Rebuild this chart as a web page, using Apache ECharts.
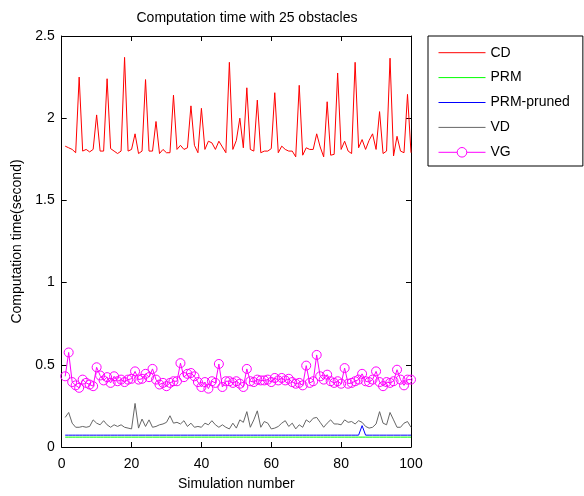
<!DOCTYPE html>
<html>
<head>
<meta charset="utf-8">
<script src="https://cdn.jsdelivr.net/npm/echarts@6/dist/echarts.min.js"></script>
<style>html,body{margin:0;padding:0;background:#fff;}#c{width:584px;height:496px;}</style>
</head>
<body>
<div id="c"></div>
<script>
const titleText = 'Computation time with 25 obstacles';
const xName = 'Simulation number';
const yName = 'Computation time(second)';
const seriesNames = ['CD', 'PRM', 'PRM-pruned', 'VD', 'VG'];

const cdValues = [1.83,1.82,1.81,1.79,2.25,1.80,1.81,1.795,1.81,2.02,
  1.80,1.80,2.24,1.815,1.80,1.785,1.80,2.37,1.80,1.81,
  1.905,1.785,1.80,2.235,1.80,1.80,1.98,1.785,1.81,1.79,
  1.79,2.14,1.81,1.835,1.81,1.82,2.075,1.835,1.79,2.06,
  1.81,1.86,1.85,1.81,1.86,1.825,1.79,2.34,1.81,1.865,
  2.00,1.82,2.185,1.81,1.80,2.11,1.79,1.80,1.80,1.815,
  2.155,1.79,1.83,1.81,1.80,1.80,1.765,2.20,1.775,1.82,
  1.81,1.81,1.905,1.825,1.765,2.10,1.775,1.78,2.275,1.81,
  1.86,1.80,1.785,2.34,1.82,1.87,1.81,1.865,1.905,1.81,
  2.04,1.785,1.80,2.365,1.77,1.89,1.80,1.79,2.145,1.79];

const prmValues = [0.06,0.06,0.06,0.06,0.06,0.06,0.06,0.06,0.06,0.06,
  0.06,0.06,0.06,0.06,0.06,0.06,0.06,0.06,0.06,0.06,
  0.06,0.06,0.06,0.06,0.06,0.06,0.06,0.06,0.06,0.06,
  0.06,0.06,0.06,0.06,0.06,0.06,0.06,0.06,0.06,0.06,
  0.06,0.06,0.06,0.06,0.06,0.06,0.06,0.06,0.06,0.06,
  0.06,0.06,0.06,0.06,0.06,0.06,0.06,0.06,0.06,0.06,
  0.06,0.06,0.06,0.06,0.06,0.06,0.06,0.06,0.06,0.06,
  0.06,0.06,0.06,0.06,0.06,0.06,0.06,0.06,0.06,0.06,
  0.06,0.06,0.06,0.06,0.06,0.06,0.06,0.06,0.06,0.06,
  0.06,0.06,0.06,0.06,0.06,0.06,0.06,0.06,0.06,0.06];

const prmPrunedValues = [0.072,0.072,0.072,0.072,0.072,0.072,0.072,0.072,0.072,0.072,
  0.072,0.072,0.072,0.072,0.072,0.072,0.072,0.072,0.072,0.072,
  0.072,0.072,0.072,0.072,0.072,0.072,0.072,0.072,0.072,0.072,
  0.072,0.072,0.072,0.072,0.072,0.072,0.072,0.072,0.072,0.072,
  0.072,0.072,0.072,0.072,0.072,0.072,0.072,0.072,0.072,0.072,
  0.072,0.072,0.072,0.072,0.072,0.072,0.072,0.072,0.072,0.072,
  0.072,0.072,0.072,0.072,0.072,0.072,0.072,0.072,0.072,0.072,
  0.072,0.072,0.072,0.072,0.072,0.072,0.072,0.072,0.072,0.072,
  0.072,0.072,0.072,0.072,0.072,0.13,0.072,0.072,0.072,0.072,
  0.072,0.072,0.072,0.072,0.072,0.072,0.072,0.072,0.072,0.072];

const vdValues = [0.18,0.21,0.145,0.12,0.12,0.125,0.12,0.125,0.165,0.145,
  0.135,0.16,0.135,0.12,0.135,0.125,0.135,0.12,0.115,0.11,
  0.265,0.115,0.17,0.125,0.165,0.12,0.125,0.135,0.14,0.15,
  0.19,0.145,0.15,0.14,0.16,0.125,0.145,0.12,0.125,0.12,
  0.145,0.135,0.16,0.135,0.12,0.135,0.12,0.11,0.145,0.115,
  0.165,0.15,0.215,0.12,0.165,0.22,0.12,0.155,0.145,0.11,
  0.115,0.125,0.145,0.16,0.125,0.145,0.11,0.135,0.12,0.165,
  0.15,0.175,0.18,0.15,0.12,0.145,0.165,0.14,0.14,0.135,
  0.165,0.15,0.155,0.14,0.16,0.15,0.125,0.115,0.12,0.14,
  0.215,0.145,0.135,0.21,0.165,0.12,0.12,0.145,0.155,0.12];

const vgValues = [0.43,0.575,0.395,0.375,0.36,0.41,0.39,0.38,0.37,0.485,
  0.435,0.405,0.425,0.39,0.43,0.40,0.41,0.395,0.41,0.415,
  0.46,0.41,0.415,0.445,0.425,0.475,0.41,0.38,0.39,0.37,
  0.39,0.40,0.40,0.51,0.425,0.445,0.45,0.43,0.395,0.365,
  0.395,0.355,0.40,0.39,0.505,0.365,0.40,0.40,0.39,0.40,
  0.385,0.365,0.475,0.40,0.395,0.41,0.405,0.405,0.41,0.395,
  0.42,0.405,0.42,0.405,0.415,0.395,0.385,0.39,0.375,0.495,
  0.39,0.40,0.56,0.43,0.41,0.44,0.40,0.39,0.40,0.385,
  0.48,0.385,0.39,0.40,0.41,0.445,0.40,0.395,0.41,0.46,
  0.395,0.37,0.395,0.39,0.40,0.47,0.41,0.375,0.41,0.41];

const xTicks = [0, 20, 40, 60, 80, 100];
const yTicks = [0, 0.5, 1, 1.5, 2, 2.5];

const FONT = '"Liberation Sans", Arial, sans-serif';
const pairs = vals => vals.map((v, i) => [i + 1, v]);

const chart = echarts.init(document.getElementById('c'), null, {renderer: 'canvas'});

const axisCommon = {
  axisLine: {show: true, onZero: false, lineStyle: {color: '#000', width: 1}},
  axisTick: {show: true, inside: true, length: 5, lineStyle: {color: '#000'}},
  splitLine: {show: false}
};

const hiddenSymbol = {opacity: 0};

chart.setOption({
  animation: false,
  backgroundColor: '#fff',
  textStyle: {fontFamily: FONT},
  title: {
    text: titleText,
    left: 247, top: 11, padding: 0,
    textAlign: 'center',
    textStyle: {fontSize: 14, fontWeight: 'normal', color: '#000', fontFamily: FONT}
  },
  grid: {left: 61.7, right: 173, top: 36, bottom: 43.5, containLabel: false},
  legend: {
    orient: 'vertical',
    left: 428, top: 36,
    itemWidth: 47, itemHeight: 12, itemGap: 10.9,
    padding: [9.7, 13, 6.7, 10],
    borderColor: '#000', borderWidth: 1, backgroundColor: '#fff',
    lineStyle: {width: 1},
    textStyle: {fontSize: 14, color: '#000', fontFamily: FONT},
    data: [
      {name: seriesNames[0], itemStyle: hiddenSymbol},
      {name: seriesNames[1], itemStyle: hiddenSymbol},
      {name: seriesNames[2], itemStyle: hiddenSymbol},
      {name: seriesNames[3], itemStyle: hiddenSymbol},
      {name: seriesNames[4], itemStyle: {color: '#ffffff', borderColor: '#ff00ff', borderWidth: 1}}
    ]
  },
  xAxis: [
    Object.assign({
      type: 'value', min: xTicks[0], max: xTicks[xTicks.length - 1], interval: 20,
      position: 'bottom',
      name: xName, nameLocation: 'middle', nameGap: 30,
      nameTextStyle: {fontSize: 14, color: '#000', fontFamily: FONT},
      axisLabel: {fontSize: 14, color: '#000', margin: 10, fontFamily: FONT}
    }, axisCommon),
    Object.assign({
      type: 'value', min: xTicks[0], max: xTicks[xTicks.length - 1], interval: 20,
      position: 'top', axisLabel: {show: false}
    }, axisCommon)
  ],
  yAxis: [
    Object.assign({
      type: 'value', min: yTicks[0], max: yTicks[yTicks.length - 1], interval: 0.5,
      position: 'left',
      name: yName, nameLocation: 'middle', nameGap: 36,
      nameTextStyle: {fontSize: 14, color: '#000', fontFamily: FONT},
      axisLabel: {fontSize: 14, color: '#000', margin: 7, fontFamily: FONT}
    }, axisCommon),
    Object.assign({
      type: 'value', min: yTicks[0], max: yTicks[yTicks.length - 1], interval: 0.5,
      position: 'right', axisLabel: {show: false}
    }, axisCommon)
  ],
  series: [
    {name: 'CD', type: 'line', data: pairs(cdValues), symbol: 'none', showSymbol: false,
     lineStyle: {color: '#ff0000', width: 1}, itemStyle: {color: '#ff0000'}},
    {name: 'PRM', type: 'line', data: pairs(prmValues), symbol: 'none', showSymbol: false,
     lineStyle: {color: '#00ff00', width: 1}, itemStyle: {color: '#00ff00'}},
    {name: 'PRM-pruned', type: 'line', data: pairs(prmPrunedValues), symbol: 'none', showSymbol: false,
     lineStyle: {color: '#0000ff', width: 1}, itemStyle: {color: '#0000ff'}},
    {name: 'VD', type: 'line', data: pairs(vdValues), symbol: 'none', showSymbol: false,
     lineStyle: {color: '#666666', width: 1}, itemStyle: {color: '#666666'}},
    {name: 'VG', type: 'line', data: pairs(vgValues), symbol: 'circle', symbolSize: 9, showSymbol: true,
     lineStyle: {color: '#ff00ff', width: 1},
     itemStyle: {color: 'rgba(255,255,255,0)', borderColor: '#ff00ff', borderWidth: 1}}
  ]
});
</script>
</body>
</html>
